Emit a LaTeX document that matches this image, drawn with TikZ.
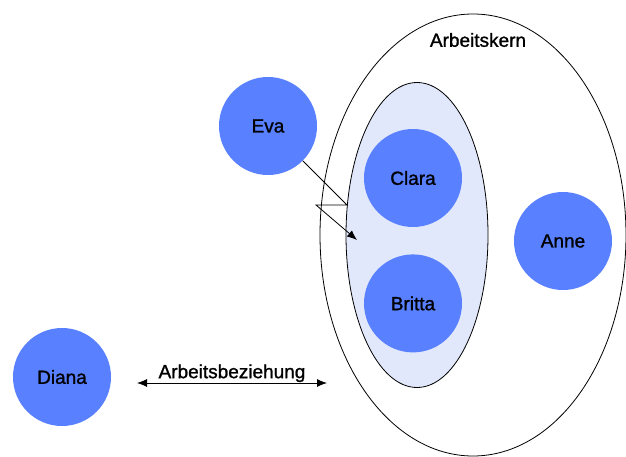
\documentclass[tikz,border=0pt]{standalone}
\usepackage{fontspec}
\setmainfont{Liberation Sans}[RawFeature={embolden=1.2}]
\usetikzlibrary{shapes.geometric,arrows.meta,positioning}
\definecolor{personblue}{RGB}{88,128,255}
\definecolor{teamfill}{RGB}{226,232,252}

\begin{document}
\begin{tikzpicture}[
    x=1pt, y=-1pt,
    font=\fontsize{19}{21}\selectfont,
    % --- node styles ---
    person/.style = {circle, fill=personblue, minimum size=98pt, inner sep=0pt},
    zone/.style   = {ellipse, draw=black, line width=0.8pt, inner sep=0pt},
    arrow/.style  = {-{Latex[length=10pt,width=8pt]}, line width=0.8pt},
    darrow/.style = {{Latex[length=10pt,width=8pt]}-{Latex[length=10pt,width=8pt]},
                     line width=0.8pt},
]
\useasboundingbox (0,0) rectangle (626,457);

%============ ZONES ============
\node (kern) [zone, minimum width=306pt, minimum height=442pt] at (473,235) {};
\node (kernlbl) at (478,40) {Arbeitskern};

\node (team) [zone, fill=teamfill, minimum width=142pt, minimum height=305pt]
  at (417,235) {};

%============ PERSONS ============
\node (clara) [person] at (413,178) {Clara};
\node (britta) [person, below=27pt of clara] {Britta};
\node (anne) [person] at (563,241) {Anne};
\node (eva) [person] at (268,126) {Eva};
\node (diana) [person] at (62,377) {Diana};

%============ CONNECTORS ============
% Eva zig-zag into the team
\coordinate (zigA) at (347,205);
\coordinate (zigB) at (316,205);
\coordinate (zigtip) at (357,240);
\draw[arrow] (eva) -- (zigA) -- (zigB) -- (zigtip);

% Working relation
\coordinate (relL) at (137,383);
\coordinate (relR) at (327,383);
\draw[darrow] (relL) -- node (rellbl) [above, inner sep=0.5pt] {Arbeitsbeziehung} (relR);

\end{tikzpicture}
\end{document}
